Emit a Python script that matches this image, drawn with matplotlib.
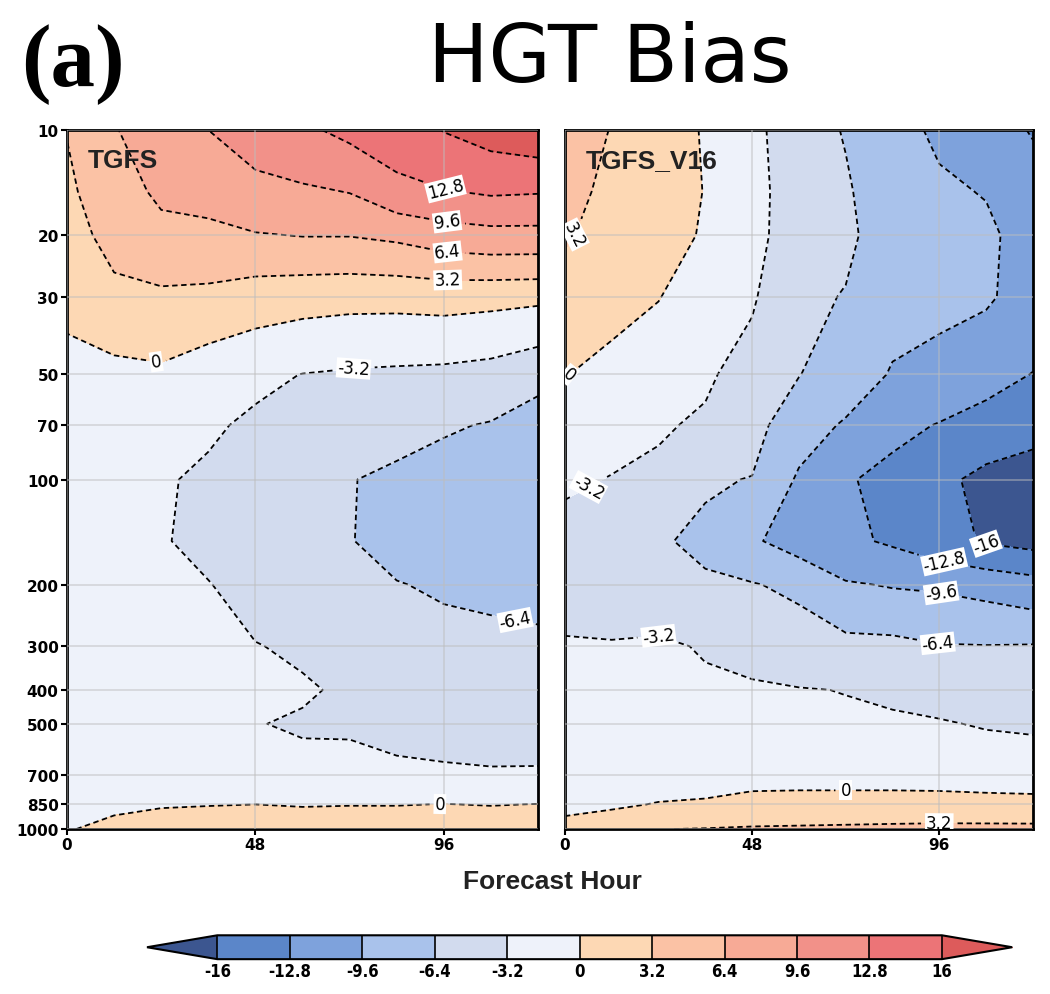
import numpy as np
import matplotlib.pyplot as plt
from matplotlib.colors import ListedColormap, BoundaryNorm
from matplotlib.ticker import NullLocator

# grid: forecast hour (columns) x pressure level (rows)
hours = [0, 12, 24, 36, 48, 60, 72, 84, 96, 108, 120]
pressure = [10, 15, 20, 30, 50, 70, 100, 150, 200, 300, 400, 500, 700, 850, 1000]

# HGT bias, one list per forecast hour, values from top (10 hPa) to bottom (1000 hPa)
tgfs = [
    [3.3, 2.6, 2.0, 0.7, -1.0, -1.4, -1.6, -1.6, -1.5, -1.4, -1.2, -1.0, -0.6, -0.3, -0.1],
    [6.2, 5.2, 4.2, 2.4, -1.0, -1.3, -1.7, -1.8, -1.7, -1.5, -1.3, -1.1, -0.7, -0.3, 0.4],
    [8.2, 6.9, 5.6, 2.6, -0.6, -2.0, -2.9, -3.0, -2.7, -2.1, -1.8, -1.6, -1.0, -0.2, 1.2],
    [9.6, 7.5, 5.6, 2.4, -2.0, -2.8, -3.7, -3.9, -3.1, -2.6, -2.1, -1.8, -1.1, -0.1, 1.5],
    [10.8, 8.8, 6.2, 1.4, -2.6, -3.7, -4.5, -4.7, -4.2, -3.1, -2.7, -3.1, -1.7, 0.0, 1.9],
    [12.3, 9.1, 6.5, 1.0, -3.25, -4.3, -5.2, -5.4, -5.0, -3.6, -2.9, -3.5, -2.3, -0.2, 1.9],
    [13.5, 9.7, 6.5, 0.8, -3.6, -5.2, -6.3, -6.3, -5.8, -4.4, -3.6, -3.5, -2.4, -0.1, 1.8],
    [14.6, 11.8, 7.0, 0.8, -3.8, -5.6, -6.9, -7.2, -6.3, -5.0, -4.2, -3.9, -2.7, -0.1, 1.8],
    [16.1, 12.6, 8.0, 1.0, -4.0, -6.1, -7.6, -7.8, -6.7, -5.6, -4.6, -4.2, -2.8, 0.05, 1.8],
    [17.2, 13.2, 8.5, 0.8, -4.5, -6.6, -8.2, -8.6, -7.2, -5.4, -5.0, -4.5, -2.9, -0.1, 1.7],
    [18.0, 13.0, 8.5, 0.6, -5.9, -7.2, -8.5, -8.8, -7.6, -5.6, -4.8, -4.4, -2.9, 0.05, 1.7],
]
tgfs_v16 = [
    [4.6, 4.0, 3.5, 2.0, 0.1, -1.6, -2.8, -4.2, -4.0, -3.0, -2.2, -1.7, -1.0, -0.5, 0.6],
    [3.1, 2.6, 2.0, 1.0, -1.0, -2.4, -3.3, -5.0, -4.6, -3.0, -2.5, -1.9, -1.0, -0.3, 1.2],
    [1.8, 1.5, 1.2, 0.1, -2.0, -2.9, -3.8, -6.1, -4.8, -2.8, -2.6, -2.1, -1.0, 0.1, 3.15],
    [-0.3, -0.1, -0.3, -1.5, -2.8, -3.6, -6.1, -7.0, -6.0, -3.4, -2.8, -2.3, -1.1, 0.3, 3.3],
    [-2.4, -2.2, -2.3, -2.9, -4.3, -5.3, -6.5, -9.2, -6.2, -4.0, -2.9, -2.4, -0.9, 0.8, 3.5],
    [-5.0, -4.8, -4.8, -5.5, -6.3, -8.4, -10.0, -10.9, -7.1, -4.6, -3.1, -2.6, -0.9, 0.9, 3.6],
    [-6.6, -6.0, -5.7, -6.6, -8.2, -9.9, -12.4, -12.2, -9.3, -5.4, -3.25, -2.9, -1.0, 1.0, 3.7],
    [-9.0, -8.5, -8.2, -8.8, -9.8, -11.8, -14.0, -13.2, -9.8, -5.5, -3.7, -2.8, -1.1, 1.1, 3.8],
    [-9.9, -9.3, -9.0, -9.1, -10.3, -13.0, -15.3, -14.8, -10.0, -6.2, -4.2, -3.0, -1.2, 1.1, 3.9],
    [-11.5, -9.7, -9.2, -9.3, -11.5, -14.3, -16.8, -16.3, -10.6, -6.3, -4.5, -3.4, -1.4, 1.0, 3.9],
    [-13.0, -11.5, -10.5, -10.6, -12.9, -15.0, -17.5, -17.0, -11.5, -6.2, -4.8, -3.6, -1.5, 0.9, 3.9],
]

levels = [-16, -12.8, -9.6, -6.4, -3.2, 0, 3.2, 6.4, 9.6, 12.8, 16]
level_colors = ['#5b86c9', '#7ea2dc', '#a9c2eb', '#d2dbee', '#eef2fa',
                '#fdd8b4', '#fbc2a5', '#f7aa96', '#f29189', '#ec7477']
under_color = '#3c5690'
over_color = '#dd5b5b'

yticks = [10, 20, 30, 50, 70, 100, 200, 300, 400, 500, 700, 850, 1000]
xticks = [0, 48, 96]

# where the contour labels sit (hour, hPa)
tgfs_label_pos = [(97, 13.6), (97, 17.5), (97, 22), (97, 26.8), (23, 44),
                  (73, 48), (114, 258), (95, 850)]
v16_label_pos = [(3, 20), (1, 50), (5, 100), (24, 270), (108, 152),
                 (97, 178), (96, 225), (96, 278), (72, 780), (96, 955)]


def fmt(v):
    return '%g' % round(v, 1)


def main():
    cmap = ListedColormap(level_colors)
    cmap.set_under(under_color)
    cmap.set_over(over_color)
    norm = BoundaryNorm(levels, cmap.N)

    fig = plt.figure(figsize=(10.5, 9.95), dpi=100)
    ax1 = fig.add_axes([0.0638, 0.1658, 0.4486, 0.7025])
    ax2 = fig.add_axes([0.538, 0.1658, 0.4457, 0.7025])

    panels = [(ax1, tgfs, 'TGFS', tgfs_label_pos),
              (ax2, tgfs_v16, 'TGFS_V16', v16_label_pos)]
    for ax, data, name, label_pos in panels:
        z = np.array(data).T
        ax.set_yscale('log')
        cf = ax.contourf(hours, pressure, z, levels=levels, cmap=cmap,
                         norm=norm, extend='both')
        cs = ax.contour(hours, pressure, z, levels=levels, colors='k',
                        linewidths=1.3, linestyles=[(0, (3, 2))])
        texts = ax.clabel(cs, fmt=fmt, fontsize=12, inline=True,
                          manual=label_pos)
        for t in texts:
            t.set_bbox(dict(boxstyle='square,pad=0.06', fc='white', ec='none'))
        ax.set_xlim(0, 120)
        ax.set_ylim(1000, 10)
        ax.set_yticks(yticks)
        ax.yaxis.set_minor_locator(NullLocator())
        ax.set_xticks(xticks)
        ax.set_xticklabels([str(x) for x in xticks], fontsize=11, fontweight='bold')
        ax.grid(True, color='#bdbdbd', alpha=0.55, linewidth=1.2, zorder=3)
        ax.set_axisbelow(False)
        for sp in ax.spines.values():
            sp.set_linewidth(2.0)
        ax.tick_params(axis='both', length=4, width=1.5, pad=2)
        ax.text(0.045, 0.975, name, transform=ax.transAxes, fontsize=19,
                fontweight='bold', family='Liberation Sans', va='top',
                color='#222222', zorder=6)

    ax1.set_yticklabels([str(y) for y in yticks], fontsize=11, fontweight='bold')
    ax2.set_yticklabels([])
    ax2.tick_params(axis='y', length=0)

    fig.text(0.526, 0.114, 'Forecast Hour', ha='center', va='center',
             fontsize=19, fontweight='bold', family='Liberation Sans',
             color='#222222')

    cax = fig.add_axes([0.14, 0.035, 0.824, 0.024])
    cb = fig.colorbar(cf, cax=cax, orientation='horizontal', ticks=levels,
                      extendfrac=0.097, drawedges=True)
    cb.outline.set_linewidth(1.5)
    cb.dividers.set_linewidth(1.2)
    cb.ax.tick_params(length=0, pad=2)
    cb.ax.set_xticklabels([fmt(v) for v in levels], fontsize=12,
                          fontweight='bold', family='DejaVu Sans',
                          fontstretch='condensed')

    fig.text(0.02, 0.935, '(a)', fontsize=64, fontweight='bold',
             family='Liberation Serif', va='center', ha='left')
    fig.text(0.581, 0.94, 'HGT Bias', fontsize=58, ha='center', va='center',
             family='DejaVu Sans')

    fig.savefig('out.png', dpi=100)


if __name__ == '__main__':
    main()
